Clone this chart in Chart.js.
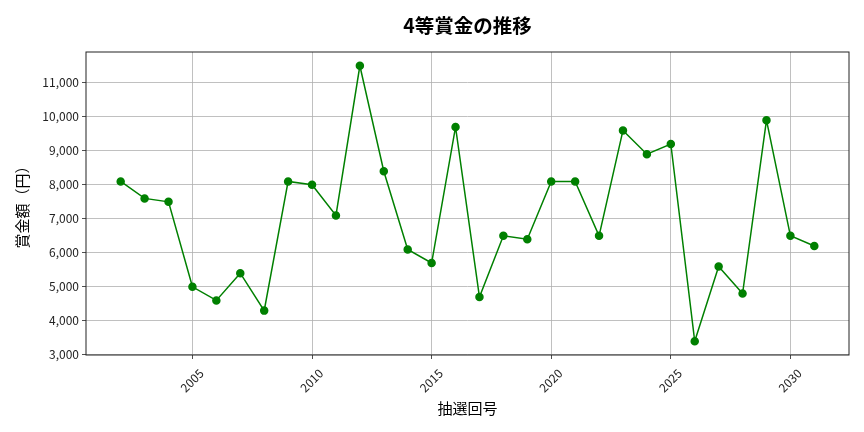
<!DOCTYPE html>
<html>
<head>
<meta charset="utf-8">
<script src="https://cdn.jsdelivr.net/npm/chart.js@4.4.1/dist/chart.umd.min.js"></script>
<style>
    html, body { margin: 0; padding: 0; background: #ffffff; }
    #wrap { width: 864px; height: 432px; }
</style>
</head>
<body>
<div id="wrap"><canvas id="prizeChart" width="864" height="432"></canvas></div>
<script>
const years = [2002, 2003, 2004, 2005, 2006, 2007, 2008, 2009, 2010, 2011,
               2012, 2013, 2014, 2015, 2016, 2017, 2018, 2019, 2020, 2021,
               2022, 2023, 2024, 2025, 2026, 2027, 2028, 2029, 2030, 2031];
const prizes = [8100, 7600, 7500, 5000, 4600, 5400, 4300, 8100, 8000, 7100,
                11500, 8400, 6100, 5700, 9700, 4700, 6500, 6400, 8100, 8100,
                6500, 9600, 8900, 9200, 3400, 5600, 4800, 9900, 6500, 6200];
const xTicks = [2005, 2010, 2015, 2020, 2025, 2030];
const yTicks = [3000, 4000, 5000, 6000, 7000, 8000, 9000, 10000, 11000];
const chartTitle = '4等賞金の推移';

const FONT = "'Noto Sans CJK JP', 'Noto Sans', sans-serif";
const gridColor = '#b0b0b0';
const axisColor = '#222222';

// matplotlib-style frame round the plot area, title centred over the plot area
const framePlugin = {
    id: 'frame',
    afterDraw(chart) {
        const { ctx, chartArea } = chart;
        ctx.save();
        ctx.strokeStyle = axisColor;
        ctx.lineWidth = 1;
        ctx.strokeRect(chartArea.left, chartArea.top,
                       chartArea.right - chartArea.left, chartArea.bottom - chartArea.top);
        ctx.fillStyle = '#000000';
        ctx.font = `bold 19.5px ${FONT}`;
        ctx.textAlign = 'center';
        ctx.textBaseline = 'middle';
        ctx.fillText(chartTitle, (chartArea.left + chartArea.right) / 2, 26);
        ctx.restore();
    }
};

const ctx = document.getElementById('prizeChart').getContext('2d');
new Chart(ctx, {
    type: 'line',
    data: {
        datasets: [{
            label: '4等賞金',
            data: years.map((y, i) => ({ x: y, y: prizes[i] })),
            borderColor: '#008000',
            backgroundColor: '#008000',
            borderWidth: 1.5,
            pointRadius: 3.5,
            pointHoverRadius: 3.5,
            tension: 0
        }]
    },
    options: {
        responsive: false,
        animation: false,
        layout: {
            padding: { top: 52, bottom: 0, left: 0, right: 15 }
        },
        scales: {
            x: {
                type: 'linear',
                min: 2000.55,
                max: 2032.45,
                afterBuildTicks: scale => { scale.ticks = xTicks.map(v => ({ value: v })); },
                afterFit: scale => { scale.height = 77; },
                grid: { color: gridColor, lineWidth: 0.8, tickLength: 4, tickColor: axisColor },
                border: { display: false },
                ticks: {
                    color: axisColor,
                    font: { family: FONT, size: 12 },
                    maxRotation: 45,
                    minRotation: 45,
                    padding: 7,
                    labelOffset: 9,
                    callback: v => String(v)
                },
                title: {
                    display: true,
                    text: '抽選回号',
                    color: '#000000',
                    font: { family: FONT, size: 15 },
                    padding: { top: 4, bottom: 15 }
                }
            },
            y: {
                min: 2995,
                max: 11905,
                afterBuildTicks: scale => { scale.ticks = yTicks.map(v => ({ value: v })); },
                afterFit: scale => { scale.width = 86; },
                grid: { color: gridColor, lineWidth: 0.8, tickLength: 4, tickColor: axisColor },
                border: { display: false },
                ticks: {
                    color: axisColor,
                    font: { family: FONT, size: 12 },
                    padding: 3,
                    callback: v => v.toLocaleString('en-US')
                },
                title: {
                    display: true,
                    text: '賞金額（円）',
                    color: '#000000',
                    font: { family: FONT, size: 15 },
                    padding: { top: 13, bottom: 4 }
                }
            }
        },
        plugins: {
            legend: { display: false },
            tooltip: { enabled: false },
            title: { display: false }
        }
    },
    plugins: [framePlugin]
});
</script>
</body>
</html>
